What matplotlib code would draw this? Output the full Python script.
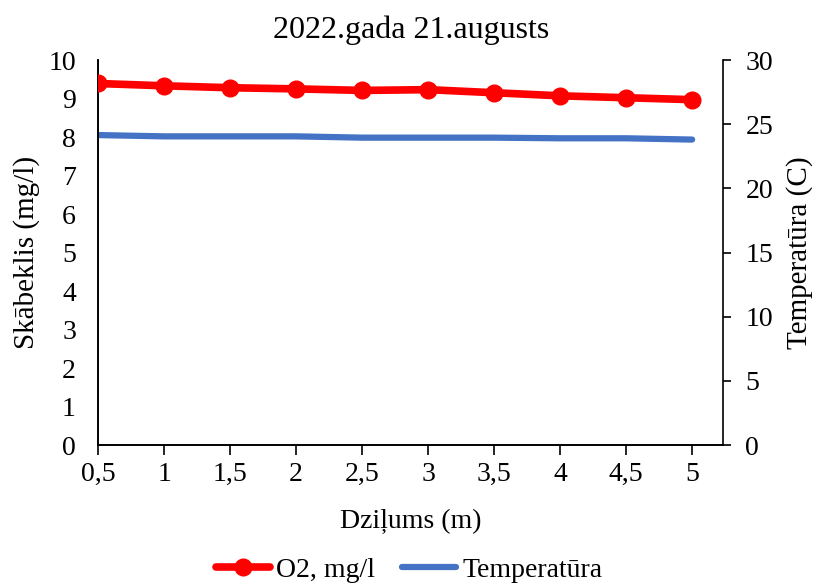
import matplotlib.pyplot as plt
from matplotlib.ticker import FuncFormatter

# depth profile, 21 Aug 2022
depth = [0.5, 1, 1.5, 2, 2.5, 3, 3.5, 4, 4.5, 5]
o2 = [9.39, 9.33, 9.28, 9.25, 9.21, 9.23, 9.15, 9.07, 9.02, 8.97]
temp = [24.15, 24.05, 24.05, 24.05, 23.95, 23.95, 23.95, 23.9, 23.9, 23.8]
x_ticks = [0.5, 1, 1.5, 2, 2.5, 3, 3.5, 4, 4.5, 5]

plt.rcParams['font.family'] = ['Liberation Serif', 'DejaVu Serif']

fig = plt.figure(figsize=(8.18, 5.86), dpi=100)
ax = fig.add_axes([0.12, 0.2406, 0.764, 0.657])
ax2 = ax.twinx()

l1, = ax.plot(depth, o2, color='#ff0000', lw=5.5, marker='o', ms=12,
              solid_capstyle='round', label='O2, mg/l', zorder=3)
l2, = ax2.plot(depth, temp, color='#4472c4', lw=4.5,
               solid_capstyle='round', label='Temperatūra')
ax.set_zorder(ax2.get_zorder() + 1)
ax.patch.set_visible(False)

ax.set_xlim(0.5, 5.235)
ax.set_ylim(0, 10)
ax2.set_ylim(0, 30)
ax.set_xticks(x_ticks)
ax.xaxis.set_major_formatter(FuncFormatter(lambda v, p: f'{v:g}'.replace('.', ',')))
ax.set_yticks(range(0, 11))
ax2.set_yticks(range(0, 31, 5))

for a in (ax, ax2):
    a.spines['top'].set_visible(False)
    for s in a.spines.values():
        s.set_linewidth(1.2)
ax.spines['right'].set_visible(False)

ax.tick_params(axis='x', direction='out', length=7, width=1.2, labelsize=20, pad=5)
ax.tick_params(axis='y', length=0, labelsize=20, pad=16)
ax2.tick_params(axis='y', direction='out', length=6, width=1.2, labelsize=20, pad=10)

ax.set_xlabel('Dziļums (m)', fontsize=20, labelpad=16)
ax.set_ylabel('Skābeklis (mg/l)', fontsize=21, labelpad=6)
ax2.set_ylabel('Temperatūra (C)', fontsize=21, labelpad=9)
ax.set_title('2022.gada 21.augusts', fontsize=23, pad=16)

fig.legend(handles=[l1, l2], loc='center', bbox_to_anchor=(0.5, 0.027), ncol=2,
           frameon=False, fontsize=20, handlelength=1.95, columnspacing=1.0,
           handletextpad=0.2)

fig.savefig('out.png', dpi=100)
